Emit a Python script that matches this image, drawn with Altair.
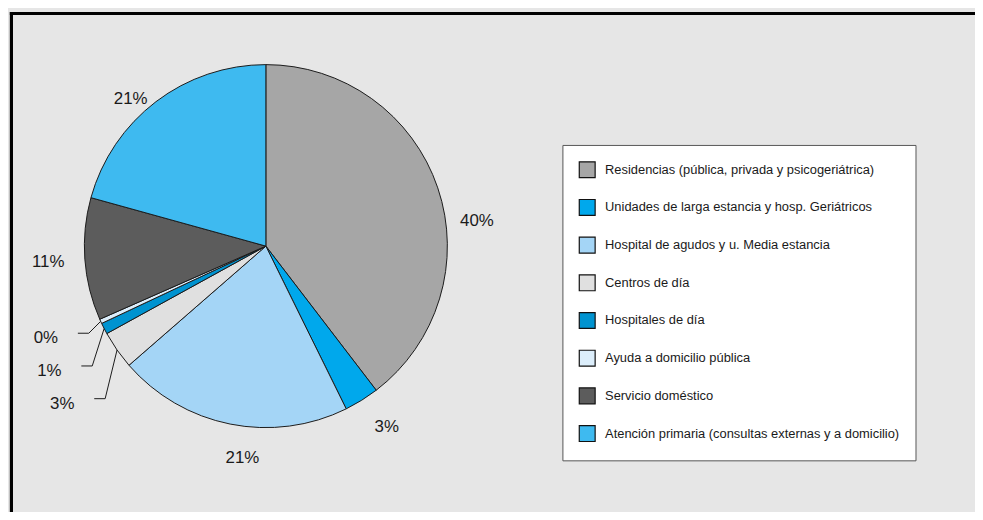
import math
import altair as alt
import pandas as pd

# ---- data ----
categories = [
    "Residencias (pública, privada y psicogeriátrica)",
    "Unidades de larga estancia y hosp. Geriátricos",
    "Hospital de agudos y u. Media estancia",
    "Centros de día",
    "Hospitales de día",
    "Ayuda a domicilio pública",
    "Servicio doméstico",
    "Atención primaria (consultas externas y a domicilio)",
]
values = [39.6, 3.1, 20.9, 3.4, 1.0, 0.4, 10.9, 20.7]
pct_labels = ["40%", "3%", "21%", "3%", "1%", "0%", "11%", "21%"]
colors = ["#a6a6a6", "#00a8ec", "#a4d5f6", "#e0e0e0",
          "#0093d0", "#dceefb", "#5c5c5c", "#3ebaf0"]
leader_slices = [5, 4, 3]   # small slices labelled with leader lines (top to bottom)

# ---- layout constants ----
W, H = 975, 504
CX, CY, R = 258, 236, 183
LABEL_R = 212
ROW_GAP = 33
FONT_LBL = "Liberation Sans"
FONT_LEG = "Liberation Sans"
# label nudges (style) for the outside labels, by slice index
NUDGE = {0: (12, 43), 1: (10, 2), 2: (18, 6), 6: (-8, 1), 7: (-8, 20)}

df = pd.DataFrame({
    "cat": categories,
    "value": values,
    "label": pct_labels,
    "order": list(range(len(values))),
})

# geometry of leader lines derived from the slice angles
total = sum(values)
mids, cum = [], 0.0
for v in values:
    mids.append((cum + v / 2) / total * 2 * math.pi)
    cum += v

def polar(r, a):
    return CX + r * math.sin(a), CY - r * math.cos(a)

line_rows, text_rows = [], []
y_first = polar(R, mids[leader_slices[0]])[1] + 12
for k, idx in enumerate(leader_slices):
    sx, sy = polar(R, mids[idx])
    ry = y_first + k * ROW_GAP
    ex = sx - 12
    line_rows += [
        {"id": idx, "p": 0, "x": sx, "y": sy},
        {"id": idx, "p": 1, "x": ex, "y": ry},
        {"id": idx, "p": 2, "x": ex - 11, "y": ry},
    ]
    text_rows.append({"x": ex - 11 - 20, "y": ry + 5, "t": pct_labels[idx]})
lines_df = pd.DataFrame(line_rows)
texts_df = pd.DataFrame(text_rows)

xs = alt.Scale(domain=[0, W], range=[0, W])
ys = alt.Scale(domain=[0, H], range=[0, H])

base = alt.Chart(df)

pie = base.mark_arc(outerRadius=R, stroke="#1a1a1a", strokeWidth=1).encode(
    theta=alt.Theta("value:Q", stack=True),
    order=alt.Order("order:Q"),
    color=alt.Color(
        "cat:N",
        sort=categories,
        scale=alt.Scale(domain=categories, range=colors),
        legend=alt.Legend(
            title=None, orient="none", legendX=557, legendY=134,
            fillColor="white", strokeColor="#555555", padding=16,
            symbolType="square", symbolSize=256, symbolStrokeColor="#111111",
            symbolStrokeWidth=1.2, symbolOpacity=1,
            labelFont=FONT_LEG, labelFontSize=13, labelColor="#1a1a1a",
            labelLimit=500, rowPadding=16, labelOffset=9,
        ),
    ),
    x=alt.value(CX), y=alt.value(CY),
)

label_layers = []
for idx, (ndx, ndy) in NUDGE.items():
    label_layers.append(
        base.transform_calculate(
            t=f"datum.order == {idx} ? datum.label : ''"
        ).mark_text(radius=LABEL_R, font=FONT_LBL, fontSize=17, color="#1a1a1a",
                    dx=ndx, dy=ndy).encode(
            theta=alt.Theta("value:Q", stack=True),
            order=alt.Order("order:Q"),
            text="t:N",
            x=alt.value(CX), y=alt.value(CY),
        )
    )

leaders = alt.Chart(lines_df).mark_line(color="#1a1a1a", strokeWidth=1).encode(
    x=alt.X("x:Q", scale=xs, axis=None),
    y=alt.Y("y:Q", scale=ys, axis=None),
    detail="id:N",
    order="p:Q",
)

leader_text = alt.Chart(texts_df).mark_text(font=FONT_LBL, fontSize=17, color="#1a1a1a",
                                            align="right", baseline="middle").encode(
    x=alt.X("x:Q", scale=xs, axis=None),
    y=alt.Y("y:Q", scale=ys, axis=None),
    text="t:N",
)

frame_top = alt.Chart(df).mark_rule(color="black", strokeWidth=3).encode(
    x=alt.value(0), x2=alt.value(W), y=alt.value(1.5))
frame_left = alt.Chart(df).mark_rule(color="black", strokeWidth=3).encode(
    x=alt.value(1.5), y=alt.value(0), y2=alt.value(H))

chart = alt.layer(
    pie, *label_layers, leaders, leader_text, frame_top, frame_left
).resolve_scale(x="shared", y="shared").properties(
    width=W, height=H, padding=0,
    autosize=alt.AutoSizeParams(type="fit", contains="padding"),
    background="#e6e6e6",
).configure_view(stroke=None)

chart.save("out.html", embed_options={"renderer": "svg", "actions": False})
